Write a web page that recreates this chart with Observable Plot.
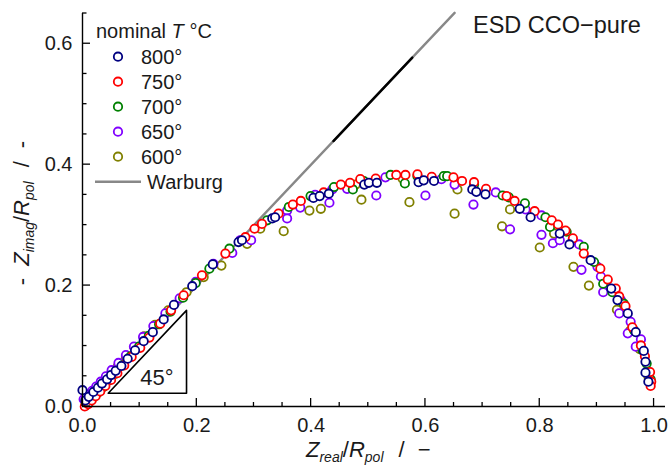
<!DOCTYPE html>
<html>
<head>
<meta charset="utf-8">
<script src="https://cdn.jsdelivr.net/npm/d3@7"></script>
<script src="https://cdn.jsdelivr.net/npm/@observablehq/plot@0.6"></script>
<style>
  html, body { margin: 0; padding: 0; background: #fff; }
  #chart svg { display: block; }
</style>
</head>
<body>
<div id="chart"></div>
<script>
// ---- Series (normalized impedance, -Zimag/Rpol vs Zreal/Rpol) ----
const temps = ["800°", "750°", "700°", "650°", "600°"];
const colors = ["#000080", "#ff0000", "#008000", "#8000ff", "#808000"];

const x800 = [0.000,0.005,0.011,0.019,0.027,0.034,0.043,0.050,0.058,0.068,0.079,0.092,0.107,0.123,0.142,0.160,0.192,0.228,0.273,0.279,0.332,0.337,0.404,0.415,0.431,0.493,0.501,0.515,0.588,0.597,0.615,0.682,0.689,0.705,0.765,0.784,0.835,0.852,0.889,0.925,0.936,0.954,0.968,0.982,0.985,0.985,0.990];
const y800 = [0.027,0.010,0.016,0.024,0.031,0.038,0.045,0.052,0.059,0.067,0.079,0.093,0.108,0.123,0.144,0.168,0.199,0.235,0.272,0.275,0.311,0.313,0.345,0.348,0.352,0.367,0.370,0.370,0.371,0.374,0.373,0.359,0.355,0.351,0.327,0.313,0.286,0.268,0.242,0.195,0.176,0.154,0.123,0.092,0.074,0.056,0.041];

const x750 = [0.004,0.010,0.016,0.023,0.031,0.040,0.050,0.061,0.073,0.086,0.101,0.117,0.136,0.155,0.177,0.209,0.250,0.285,0.301,0.314,0.343,0.368,0.382,0.422,0.452,0.468,0.486,0.513,0.549,0.565,0.586,0.611,0.649,0.664,0.685,0.706,0.742,0.756,0.791,0.821,0.832,0.845,0.858,0.877,0.906,0.919,0.933,0.939,0.950,0.962,0.977,0.984,0.993,0.995,0.994];
const y750 = [0.000,0.004,0.010,0.017,0.025,0.034,0.044,0.055,0.068,0.082,0.097,0.114,0.137,0.159,0.184,0.217,0.253,0.280,0.294,0.302,0.319,0.334,0.340,0.354,0.367,0.370,0.376,0.377,0.383,0.383,0.384,0.380,0.379,0.373,0.371,0.360,0.348,0.340,0.323,0.308,0.301,0.291,0.278,0.253,0.228,0.210,0.195,0.182,0.166,0.131,0.101,0.083,0.057,0.041,0.034];

const x700 = [0.006,0.012,0.019,0.027,0.036,0.046,0.057,0.070,0.084,0.099,0.116,0.134,0.154,0.176,0.198,0.222,0.257,0.323,0.361,0.399,0.440,0.473,0.492,0.539,0.564,0.586,0.632,0.638,0.685,0.735,0.746,0.774,0.810,0.818,0.847,0.877,0.895,0.911,0.927,0.947,0.965,0.980,0.987,0.994];
const y700 = [0.002,0.007,0.015,0.023,0.032,0.043,0.054,0.068,0.083,0.099,0.117,0.136,0.157,0.180,0.204,0.228,0.261,0.308,0.330,0.348,0.363,0.359,0.373,0.383,0.369,0.381,0.381,0.381,0.367,0.349,0.346,0.336,0.313,0.297,0.289,0.264,0.239,0.203,0.189,0.170,0.126,0.093,0.071,0.045];

const x650 = [0.002,0.006,0.011,0.017,0.024,0.032,0.041,0.051,0.063,0.076,0.090,0.106,0.124,0.145,0.170,0.198,0.229,0.262,0.276,0.295,0.358,0.358,0.381,0.407,0.432,0.437,0.463,0.514,0.530,0.600,0.628,0.651,0.684,0.723,0.748,0.775,0.803,0.803,0.823,0.835,0.869,0.873,0.901,0.907,0.911,0.942,0.939,0.959,0.954,0.977,0.968];
const y650 = [0.012,0.015,0.020,0.026,0.033,0.041,0.050,0.060,0.072,0.085,0.099,0.115,0.133,0.154,0.179,0.206,0.236,0.254,0.275,0.275,0.324,0.311,0.329,0.350,0.337,0.359,0.360,0.349,0.379,0.349,0.376,0.367,0.334,0.354,0.293,0.326,0.316,0.284,0.270,0.275,0.268,0.226,0.231,0.215,0.189,0.176,0.154,0.140,0.121,0.111,0.099];

const x600 = [0.005,0.010,0.016,0.023,0.031,0.040,0.050,0.062,0.076,0.091,0.108,0.127,0.150,0.182,0.212,0.243,0.288,0.311,0.352,0.397,0.417,0.478,0.488,0.560,0.572,0.651,0.656,0.734,0.748,0.800,0.825,0.859,0.886,0.935,0.958,0.975,0.990];
const y600 = [0.006,0.011,0.018,0.025,0.034,0.044,0.055,0.067,0.082,0.098,0.116,0.135,0.159,0.189,0.214,0.233,0.269,0.294,0.290,0.324,0.327,0.367,0.342,0.377,0.338,0.319,0.359,0.298,0.326,0.263,0.286,0.231,0.200,0.160,0.125,0.095,0.050];

// Warburg 45° line and its darker overlapping segment
const warburgX = [0, 0.651];
const warburgY = [0, 0.651];
const warburgDarkX = [0.439, 0.577];
const warburgDarkY = [0.439, 0.577];

// 45° slope triangle
const triX = [0.045, 0.182, 0.182, 0.045];
const triY = [0.022, 0.022, 0.159, 0.022];
const triLabel = ["45°"];
const triLabelPos = [0.101, 0.035];

// Axes
const xTicks = [0, 0.2, 0.4, 0.6, 0.8, 1.0];
const yTicks = [0, 0.2, 0.4, 0.6];
const xMinor = [0.05,0.1,0.15,0.25,0.3,0.35,0.45,0.5,0.55,0.65,0.7,0.75,0.85,0.9,0.95];
const yMinor = [0.05,0.1,0.15,0.25,0.3,0.35,0.45,0.5,0.55,0.65];
const xDomain = [0, 1.02];
const yDomain = [0, 0.65];

// ---- Build table ----
const seriesX = [x800, x750, x700, x650, x600];
const seriesY = [y800, y750, y700, y650, y600];
// draw low temperature first so 800° ends on top
const points = [];
for (let s = temps.length - 1; s >= 0; s--) {
  seriesX[s].forEach((v, i) => points.push({T: temps[s], x: v, y: seriesY[s][i]}));
}
const warb = warburgX.map((v, i) => ({x: v, y: warburgY[i]}));
const warbDark = warburgDarkX.map((v, i) => ({x: v, y: warburgDarkY[i]}));
const tri = triX.map((v, i) => ({x: v, y: triY[i]}));

const FONT = "'Liberation Sans', Arial, Helvetica, sans-serif";
const INK = "#1a1a1a";
const R = 4.2, SW = 1.8;

const chart = Plot.plot({
  width: 670,
  height: 467,
  marginLeft: 82,
  marginRight: 5,
  marginTop: 13,
  marginBottom: 61,
  style: {fontFamily: FONT, fontSize: "20px", background: "white", color: INK},
  x: {domain: xDomain},
  y: {domain: yDomain},
  color: {domain: temps, range: colors},
  marks: [
    Plot.axisX(xTicks, {tickSize: 0, tickPadding: 11, tickFormat: d3.format(".1f"), label: null, fontSize: 20, fill: INK}),
    Plot.axisY(yTicks, {tickSize: 0, tickPadding: 10, tickFormat: d3.format(".1f"), label: null, fontSize: 20, fill: INK}),
    Plot.line(warb, {x: "x", y: "y", stroke: "#888888", strokeWidth: 2.4}),
    Plot.line(warbDark, {x: "x", y: "y", stroke: "#000", strokeWidth: 2.4}),
    Plot.line(tri, {x: "x", y: "y", stroke: "#000", strokeWidth: 1.6}),
    Plot.text(triLabel, {x: triLabelPos[0], y: triLabelPos[1], text: d => d, textAnchor: "start", lineAnchor: "bottom", fontSize: 22, fill: INK}),
    Plot.dot(points, {x: "x", y: "y", stroke: "T", fill: "white", r: R, strokeWidth: SW}),
    Plot.ruleY([0], {stroke: "#000", strokeWidth: 1.4}),
    Plot.ruleX([0], {stroke: "#000", strokeWidth: 1.4})
  ]
});
document.getElementById("chart").appendChild(chart);

// ---- Inward ticks, placed with the plot's own scales ----
const svg = d3.select(chart);
const sx = chart.scale("x"), sy = chart.scale("y");
const x0 = sx.apply(0), y0 = sy.apply(0);
const tg = svg.append("g").attr("stroke", "#000").attr("stroke-width", 1.3);
xTicks.forEach(v => tg.append("line").attr("x1", sx.apply(v)).attr("x2", sx.apply(v)).attr("y1", y0).attr("y2", y0 - 8));
xMinor.forEach(v => tg.append("line").attr("x1", sx.apply(v)).attr("x2", sx.apply(v)).attr("y1", y0).attr("y2", y0 - 4));
yTicks.forEach(v => tg.append("line").attr("y1", sy.apply(v)).attr("y2", sy.apply(v)).attr("x1", x0).attr("x2", x0 + 8));
yMinor.forEach(v => tg.append("line").attr("y1", sy.apply(v)).attr("y2", sy.apply(v)).attr("x1", x0).attr("x2", x0 + 4.5));

// ---- Text annotations, axis titles, legend ----
const g = svg.append("g").attr("font-family", FONT).attr("fill", INK).attr("text-anchor", "start");

// x axis title
const xl = g.append("text").attr("x", 306).attr("y", 457).attr("font-size", 22);
xl.append("tspan").attr("font-style", "italic").text("Z");
xl.append("tspan").attr("font-style", "italic").attr("font-size", 14).attr("dy", 5).text("real");
xl.append("tspan").attr("dy", -5).text("/");
xl.append("tspan").attr("font-style", "italic").text("R");
xl.append("tspan").attr("font-style", "italic").attr("font-size", 14).attr("dy", 5).text("pol");
xl.append("tspan").attr("dy", -5).attr("dx", 15).text("/");
xl.append("tspan").attr("dx", 13).text("\u2212");

// y axis title
const yl = g.append("text").attr("transform", "translate(29,213) rotate(-90)")
  .attr("text-anchor", "middle").attr("font-size", 22);
yl.append("tspan").text("-");
yl.append("tspan").attr("dx", 12).attr("font-style", "italic").text("Z");
yl.append("tspan").attr("font-style", "italic").attr("font-size", 14).attr("dy", 5).text("imag");
yl.append("tspan").attr("dy", -5).text("/");
yl.append("tspan").attr("font-style", "italic").text("R");
yl.append("tspan").attr("font-style", "italic").attr("font-size", 14).attr("dy", 5).text("pol");
yl.append("tspan").attr("dy", -5).attr("dx", 14).text("/");
yl.append("tspan").attr("dx", 13).text("-");

// title
g.append("text").attr("x", 473).attr("y", 33).attr("font-size", 23.5).text("ESD CCO\u2212pure");

// legend
const lt = g.append("text").attr("x", 96).attr("y", 38).attr("font-size", 20);
lt.append("tspan").text("nominal ");
lt.append("tspan").attr("font-style", "italic").text("T");
lt.append("tspan").text(" \u00b0C");
temps.forEach((t, i) => {
  const cy = 56.7 + 25 * i;
  g.append("circle").attr("cx", 118).attr("cy", cy).attr("r", R)
    .attr("fill", "white").attr("stroke", colors[i]).attr("stroke-width", SW);
  g.append("text").attr("x", 141).attr("y", cy + 6.8).attr("font-size", 20).text(t);
});
g.append("line").attr("x1", 95).attr("x2", 141).attr("y1", 181.7).attr("y2", 181.7)
  .attr("stroke", "#888888").attr("stroke-width", 2.6);
g.append("text").attr("x", 147).attr("y", 188.5).attr("font-size", 20).text("Warburg");
</script>
</body>
</html>
